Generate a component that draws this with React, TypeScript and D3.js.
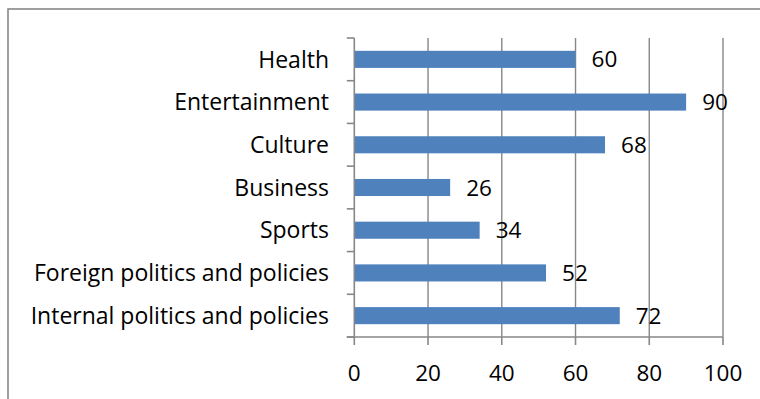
import React from "react";
import * as d3 from "d3";

const categories = [
  "Health",
  "Entertainment",
  "Culture",
  "Business",
  "Sports",
  "Foreign politics and policies",
  "Internal politics and policies",
];
const values = [60, 90, 68, 26, 34, 52, 72];
const xTicks = [0, 20, 40, 60, 80, 100];

const W = 760;
const H = 399;
const plot = { left: 354.3, right: 723, top: 38, bottom: 337 };
const FONT = "'Open Sans', 'Noto Sans', sans-serif";
const GRID = "#878787";
const BAR = "#4F81BD";

export default function App() {
  const x = d3.scaleLinear().domain([0, 100]).range([plot.left, plot.right]);
  const y = d3
    .scaleBand<string>()
    .domain(categories)
    .range([plot.top, plot.bottom])
    .paddingInner(0)
    .paddingOuter(0);
  const bw = y.bandwidth();
  const barH = bw / 2.5;
  const boundaries = d3.range(categories.length + 1).map((i) => plot.top + i * bw);

  return (
    <svg
      width={W}
      height={H}
      style={{ position: "absolute", left: 0, top: 0, background: "#fff" }}
      fontFamily={FONT}
    >
      <rect x={8} y={9} width={W + 20} height={H + 20} fill="#fff" stroke={GRID} strokeWidth={1.6} />
      {xTicks.filter((t) => t > 0).map((t) => (
        <line key={"g" + t} x1={x(t)} x2={x(t)} y1={plot.top} y2={plot.bottom} stroke={GRID} strokeWidth={1.4} />
      ))}
      {categories.map((c, i) => (
        <rect
          key={c}
          x={x(0)}
          y={y(c)! + (bw - barH) / 2}
          width={x(values[i]) - x(0)}
          height={barH}
          fill={BAR}
        />
      ))}
      {/* y axis */}
      <line x1={x(0)} x2={x(0)} y1={plot.top} y2={plot.bottom} stroke={GRID} strokeWidth={1.6} />
      {boundaries.map((b, i) => (
        <line key={"yt" + i} x1={x(0) - 7.5} x2={x(0)} y1={b} y2={b} stroke={GRID} strokeWidth={1.6} />
      ))}
      {/* x axis */}
      <line x1={x(0) - 7.5} x2={x(100)} y1={plot.bottom} y2={plot.bottom} stroke={GRID} strokeWidth={1.6} />
      {xTicks.map((t) => (
        <line key={"xt" + t} x1={x(t)} x2={x(t)} y1={plot.bottom} y2={plot.bottom + 8} stroke={GRID} strokeWidth={1.6} />
      ))}
      {xTicks.map((t) => (
        <text key={"xl" + t} x={x(t)} y={380.5} textAnchor="middle" fontSize={22.5} fill="#000">
          {t}
        </text>
      ))}
      {categories.map((c) => (
        <text
          key={"yl" + c}
          x={329}
          y={y(c)! + bw / 2}
          dy="0.36em"
          textAnchor="end"
          fontSize={23}
          fill="#000"
        >
          {c}
        </text>
      ))}
      {categories.map((c, i) => (
        <text
          key={"vl" + c}
          x={x(values[i]) + 16}
          y={y(c)! + bw / 2}
          dy="0.36em"
          fontSize={22.5}
          fill="#000"
        >
          {values[i]}
        </text>
      ))}
    </svg>
  );
}
